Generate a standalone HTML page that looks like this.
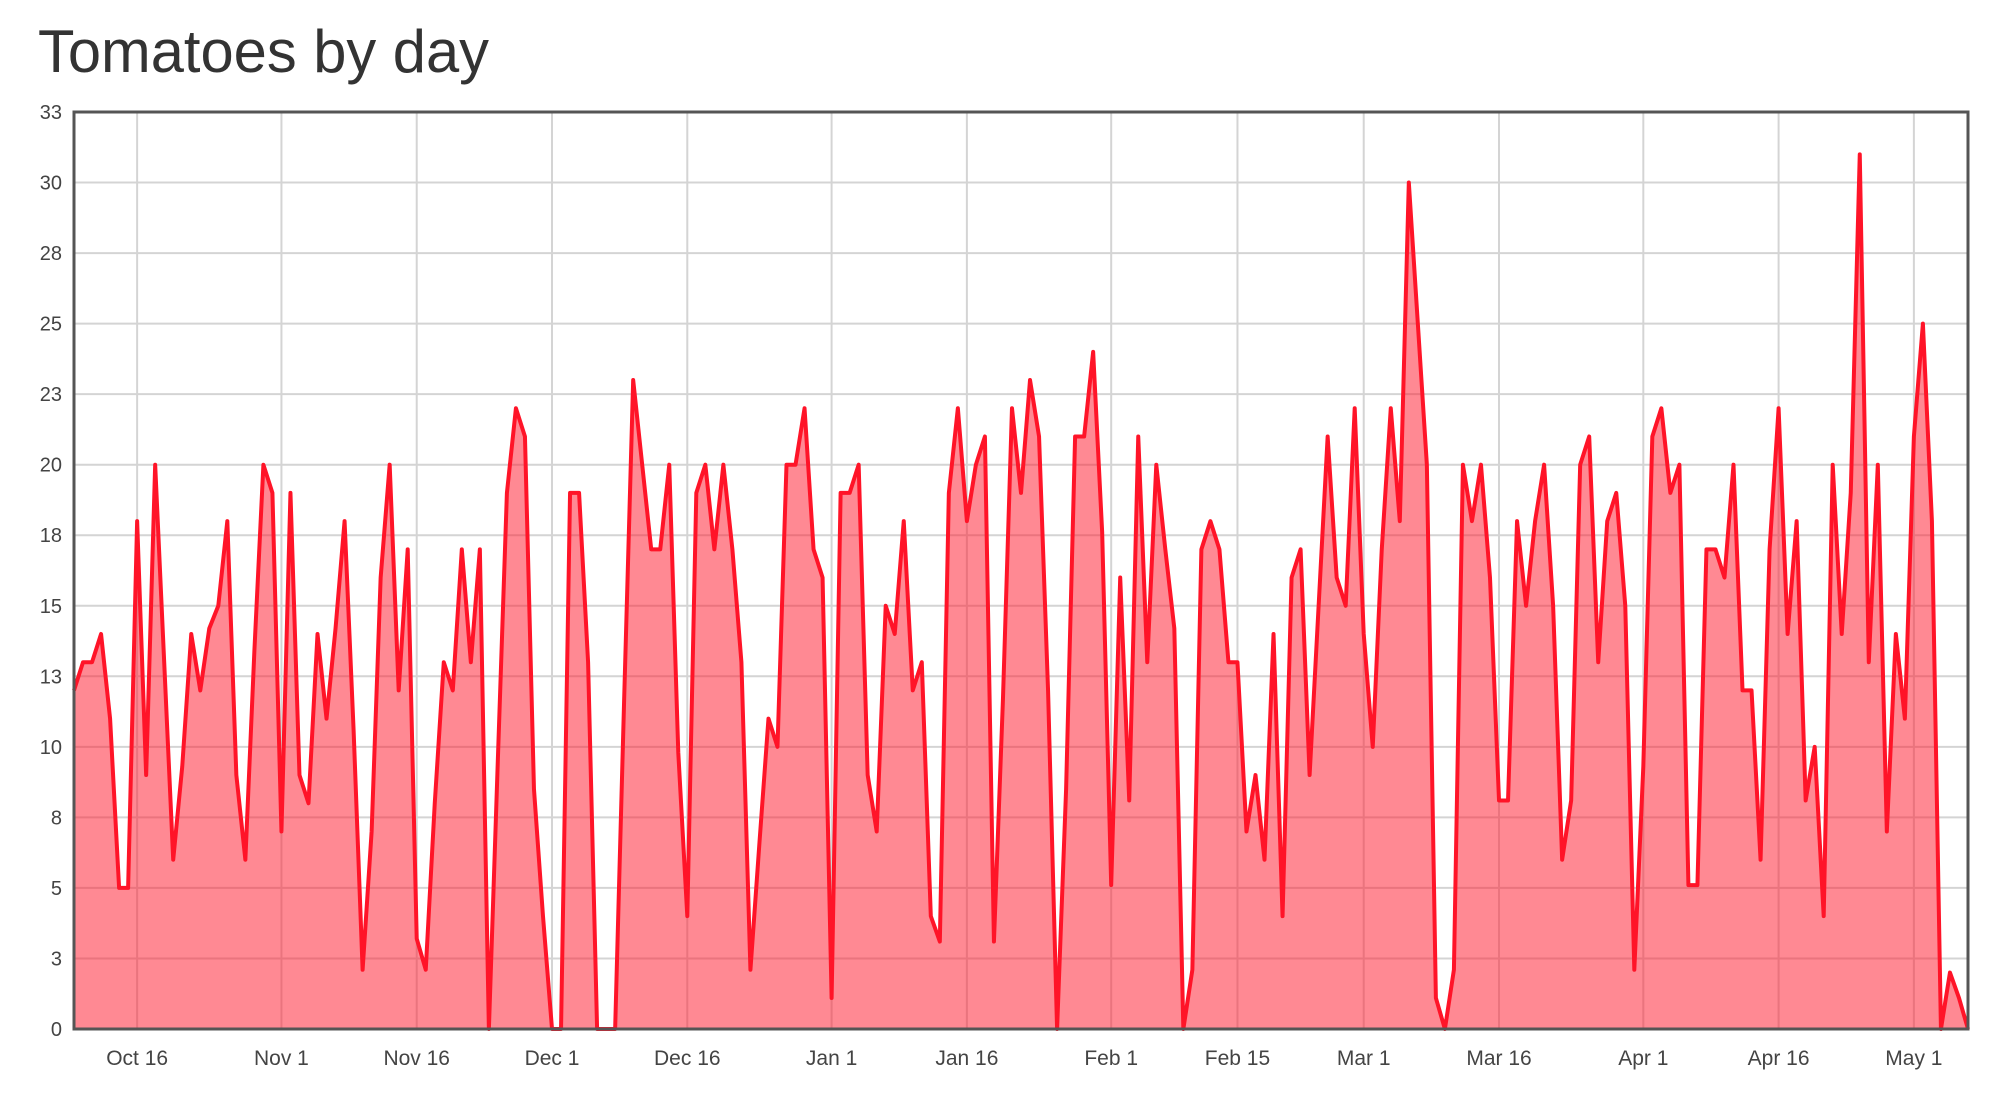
<!DOCTYPE html>
<html><head><meta charset="utf-8"><style>
html,body{margin:0;padding:0;background:#fff;}
svg{display:block;font-family:"Liberation Sans",sans-serif;}
</style></head><body>
<svg id="chart" width="2008" height="1094" viewBox="0 0 2008 1094">
<text x="38" y="72" font-size="60" fill="#333" textLength="451" lengthAdjust="spacingAndGlyphs">Tomatoes by day</text>
<g id="grid"></g><g id="series"></g><g id="axes"></g>
</svg>
<script>
const startDate = [2016, 9, 9];
const values = [12,13,13,14,11,5,5,18,9,20,13,6,9.3,14,12,14.2,15,18,9,6,13.4,20,19,7,19,9,8,14,11,14.2,18,10.6,2.1,7,16,20,12,17,3.2,2.1,8,13,12,17,13,17,0,9.6,19,22,21,8.5,4,0,0,19,19,13,0,0,0,11.7,23,20,17,17,20,9.8,4,19,20,17,20,17,13,2.1,6.6,11,10,20,20,22,17,16,1.1,19,19,20,9,7,15,14,18,12,13,4,3.1,19,22,18,20,21,3.1,11.7,22,19,23,21,12,0,8.5,21,21,24,17.6,5.1,16,8.1,21,13,20,17,14.2,0,2.1,17,18,17,13,13,7,9,6,14,4,16,17,9,15,21,16,15,22,14,10,17,22,18,30,25,20,1.1,0,2.1,20,18,20,16,8.1,8.1,18,15,18,20,15,6,8.1,20,21,13,18,19,15,2.1,9.3,21,22,19,20,5.1,5.1,17,17,16,20,12,12,6,17,22,14,18,8.1,10,4,20,14,19,31,13,20,7,14,11,21,25,18,0,2,1.1,0];
const yTicks = [0,2.5,5,7.5,10,12.5,15,17.5,20,22.5,25,27.5,30,32.5];
const yTickLabels = ["0","3","5","8","10","13","15","18","20","23","25","28","30","33"];
const xTickIndex = [7,23,38,53,68,84,99,115,129,143,158,174,189,204];
const xTickLabels = ["Oct 16","Nov 1","Nov 16","Dec 1","Dec 16","Jan 1","Jan 16","Feb 1","Feb 15","Mar 1","Mar 16","Apr 1","Apr 16","May 1"];

const L=74,R=1968,T=112,B=1029,YMAX=32.5;
const n=values.length;
const xs=i=>L+(R-L)*i/(n-1);
const ys=v=>B-(B-T)*v/YMAX;
const NS="http://www.w3.org/2000/svg";
function mk(tag,attrs,parent){const e=document.createElementNS(NS,tag);for(const k in attrs)e.setAttribute(k,attrs[k]);parent.appendChild(e);return e;}
const grid=document.getElementById('grid'),series=document.getElementById('series'),axes=document.getElementById('axes');

yTicks.forEach((t,k)=>{
  const ln=mk('line',{x1:L,x2:R,y1:ys(t),y2:ys(t),stroke:'#d4d4d4','stroke-width':2},grid);
  
  
  const tx=mk('text',{x:62,y:ys(t)+7,'font-size':20,fill:'#444','text-anchor':'end'},axes);
  tx.textContent=yTickLabels[k];
  
  
});
xTickIndex.forEach((idx,k)=>{
  const x=xs(idx);
  const ln=mk('line',{x1:x,x2:x,y1:T,y2:B,stroke:'#d4d4d4','stroke-width':2},grid);
  
  
  const tx=mk('text',{x:x,y:1065,'font-size':21,fill:'#444','text-anchor':'middle'},axes);
  tx.textContent=xTickLabels[k];
  
  
});
let pts=values.map((v,i)=>xs(i).toFixed(2)+','+ys(v).toFixed(2));
const area=mk('polygon',{points:xs(0)+','+B+' '+pts.join(' ')+' '+xs(n-1)+','+B,fill:'rgba(255,20,40,0.5)'},series);


const line=mk('polyline',{points:pts.join(' '),fill:'none',stroke:'#ff1428','stroke-width':4,'stroke-linejoin':'round'},series);


const frame=mk('rect',{x:L,y:T,width:R-L,height:B-T,fill:'none',stroke:'#555','stroke-width':3},axes);


</script>
</body></html>
